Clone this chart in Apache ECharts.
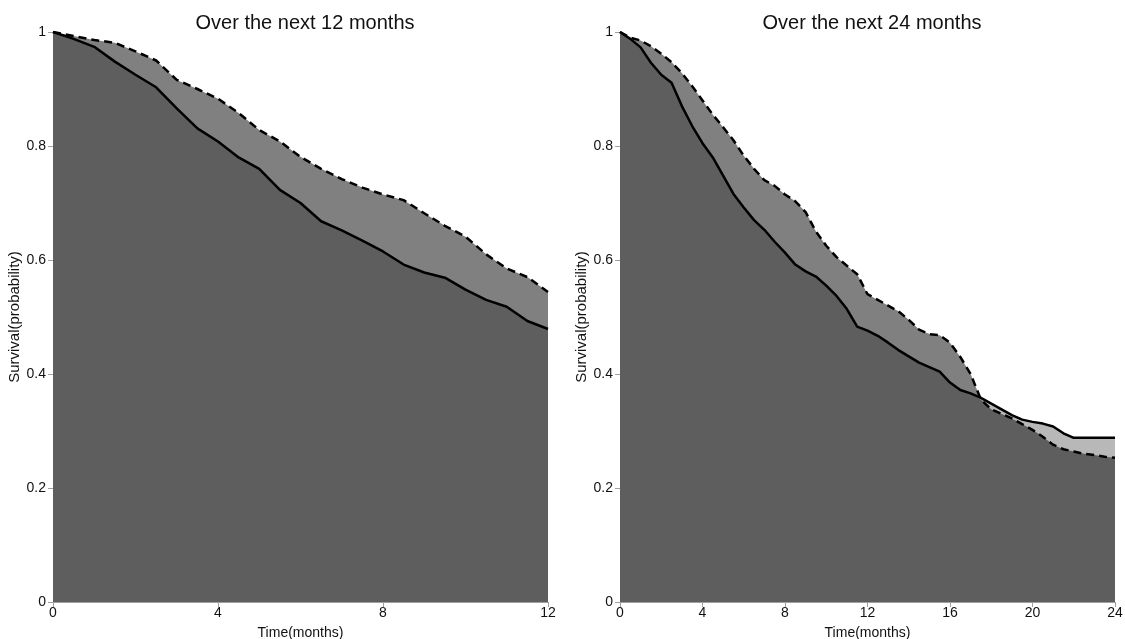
<!DOCTYPE html>
<html>
<head>
<meta charset="utf-8">
<script src="https://cdn.jsdelivr.net/npm/echarts@6/dist/echarts.min.js"></script>
<style>
  html, body { margin: 0; padding: 0; background: #fff; }
  #chart { width: 1125px; height: 639px; }
</style>
</head>
<body>
<div id="chart"></div>
<script>
// time grid (months)
const time12 = [0,0.5,1,1.5,2,2.5,3,3.5,4,4.5,5,5.5,6,6.5,7,7.5,8,8.5,9,9.5,10,10.5,11,11.5,12];
const time24 = [0,0.5,1,1.5,2,2.5,3,3.5,4,4.5,5,5.5,6,6.5,7,7.5,8,8.5,9,9.5,10,10.5,11,11.5,12,
                12.5,13,13.5,14,14.5,15,15.5,16,16.5,17,17.5,18,18.5,19,19.5,20,20.5,21,21.5,22,22.5,23,23.5,24];

// 12 month panel
const solid12 = [1.0,0.988,0.974,0.948,0.925,0.903,0.866,0.831,0.808,0.780,0.760,0.723,0.700,0.668,0.652,0.634,
                 0.615,0.592,0.578,0.569,0.548,0.530,0.518,0.493,0.479];
const dashed12 = [1.0,0.993,0.986,0.981,0.966,0.950,0.916,0.900,0.883,0.858,0.828,0.808,0.781,0.760,0.742,0.727,
                  0.715,0.705,0.682,0.660,0.641,0.610,0.585,0.570,0.544];

// 24 month panel
const solid24 = [1.0,0.988,0.973,0.946,0.925,0.911,0.870,0.835,0.805,0.780,0.748,0.716,0.692,0.670,0.653,0.632,
                 0.613,0.592,0.580,0.571,0.555,0.537,0.514,0.483,0.476,0.467,0.455,0.442,0.431,0.420,0.412,0.404,
                 0.385,0.372,0.366,0.358,0.348,0.338,0.328,0.320,0.316,0.313,0.308,0.296,0.288,0.288,0.288,0.288,0.288];
const dashed24 = [1.0,0.990,0.985,0.975,0.962,0.947,0.928,0.905,0.880,0.855,0.833,0.810,0.783,0.760,0.740,0.730,
                  0.715,0.703,0.684,0.650,0.625,0.605,0.590,0.575,0.540,0.530,0.520,0.510,0.495,0.478,0.470,0.468,
                  0.455,0.430,0.400,0.355,0.338,0.330,0.322,0.312,0.302,0.290,0.276,0.268,0.264,0.260,0.258,0.255,0.253];

const titles = ['Over the next 12 months', 'Over the next 24 months'];
const yTicks = [0, 0.2, 0.4, 0.6, 0.8, 1];

const pairs = (t, v) => t.map((x, i) => [x, v[i]]);
const lower = (a, b) => a.map((v, i) => Math.min(v, b[i]));

const axisGrey = '#a0a0a0';
const font = 'Liberation Sans, Arial, sans-serif';

function panelSeries(idx, t, solid, dashed) {
  const fill = (name, data, color) => ({
    name: name, type: 'line', xAxisIndex: idx, yAxisIndex: idx,
    data: data, symbol: 'none', silent: true,
    lineStyle: { width: 0 }, areaStyle: { color: color, opacity: 1 }
  });
  const line = (name, data, type) => ({
    name: name, type: 'line', xAxisIndex: idx, yAxisIndex: idx,
    data: data, symbol: 'none', silent: true,
    lineStyle: { color: '#000', width: 2.5, type: type }
  });
  return [
    fill('dashedArea', pairs(t, dashed), '#808080'),
    fill('solidArea', pairs(t, solid), '#b8b8b8'),
    fill('base', pairs(t, lower(solid, dashed)), '#5e5e5e'),
    line('solid', pairs(t, solid), 'solid'),
    line('dashed', pairs(t, dashed), [8, 5])
  ];
}

function xAx(idx, max) {
  return {
    type: 'value', gridIndex: idx, min: 0, max: max, interval: 4,
    name: 'Time(months)', nameLocation: 'middle', nameGap: 24,
    nameTextStyle: { color: '#111', fontSize: 14, fontFamily: font },
    axisLine: { show: true, lineStyle: { color: axisGrey, width: 1 } },
    axisTick: { show: true, length: 5, lineStyle: { color: axisGrey } },
    axisLabel: { color: '#111', fontSize: 14, fontFamily: font, margin: 4 },
    splitLine: { show: false }
  };
}

function yAx(idx) {
  return {
    type: 'value', gridIndex: idx, min: 0, max: 1, interval: 0.2,
    name: 'Survival(probability)', nameLocation: 'middle', nameGap: 27, nameRotate: 90,
    nameTextStyle: { color: '#111', fontSize: 15, fontFamily: font },
    axisLine: { show: true, lineStyle: { color: axisGrey, width: 1 } },
    axisTick: { show: true, length: 5, lineStyle: { color: axisGrey } },
    axisLabel: { color: '#111', fontSize: 14, fontFamily: font, margin: 7,
                 formatter: v => String(yTicks.find(k => Math.abs(k - v) < 1e-9) ?? v) },
    splitLine: { show: false }
  };
}

const chart = echarts.init(document.getElementById('chart'), null, { renderer: 'canvas' });
chart.setOption({
  animation: false,
  backgroundColor: '#fff',
  title: [
    { text: titles[0], left: 300, top: 8, textAlign: 'center',
      textStyle: { fontSize: 20, fontWeight: 'normal', color: '#111', fontFamily: font } },
    { text: titles[1], left: 867, top: 8, textAlign: 'center',
      textStyle: { fontSize: 20, fontWeight: 'normal', color: '#111', fontFamily: font } }
  ],
  grid: [
    { left: 53, right: 577, top: 32, bottom: 37, outerBoundsMode: 'none' },
    { left: 620, right: 10, top: 32, bottom: 37, outerBoundsMode: 'none' }
  ],
  xAxis: [xAx(0, 12), xAx(1, 24)],
  yAxis: [yAx(0), yAx(1)],
  series: [].concat(
    panelSeries(0, time12, solid12, dashed12),
    panelSeries(1, time24, solid24, dashed24)
  )
});
</script>
</body>
</html>
